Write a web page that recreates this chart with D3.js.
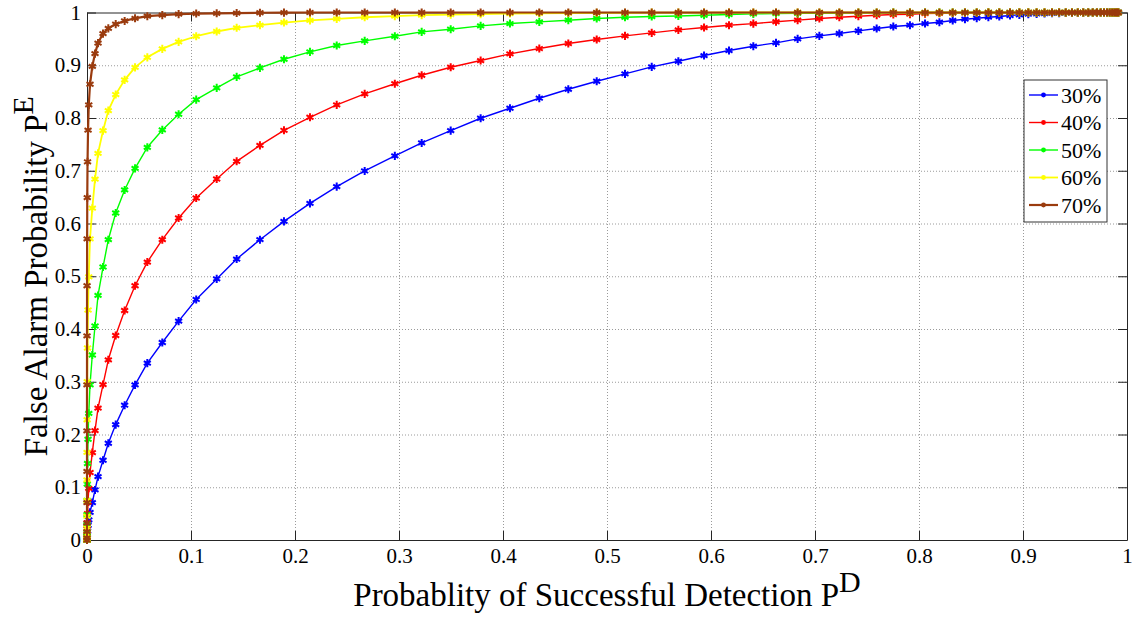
<!DOCTYPE html>
<html>
<head>
<meta charset="utf-8">
<script src="https://cdn.jsdelivr.net/npm/d3@7"></script>
<style>
  html, body { margin: 0; padding: 0; background: #fff; }
  svg { display: block; }
  text { font-family: "Liberation Serif", "Times New Roman", serif; fill: #000; }
</style>
</head>
<body>
<svg id="chart" width="1139" height="617"></svg>
<script>
// Probability of successful detection (shared grid for every curve)
const detectionProb = [
  0, 0.00000000001, 0.0000000001, 0.000000007, 0.000000055, 0.00000034, 0.0000016, 0.0000059,
  0.000018, 0.000051, 0.000125, 0.00026, 0.00052, 0.001, 0.0017, 0.0029,
  0.0051, 0.0077, 0.0106, 0.0154, 0.0205, 0.0276, 0.0362, 0.0462, 0.058, 0.0724,
  0.0881, 0.105, 0.1247, 0.1439, 0.1663, 0.1894, 0.2144, 0.2401, 0.267, 0.296,
  0.3218, 0.3497, 0.3785, 0.4067, 0.4349, 0.4628, 0.4901, 0.5173, 0.543, 0.5686,
  0.5933, 0.6173, 0.6407, 0.6625, 0.6833, 0.7042, 0.7234, 0.7417, 0.7593, 0.7753,
  0.7913, 0.8058, 0.8196, 0.8324, 0.8442, 0.8555, 0.8667, 0.8772, 0.8875, 0.8965,
  0.9051, 0.9131, 0.9207, 0.9279, 0.9347, 0.9411, 0.9471, 0.9527, 0.9579, 0.9627,
  0.9671, 0.9711, 0.9747, 0.9779, 0.9808, 0.9834, 0.9857, 0.9877, 0.9894, 0.9908, 0.9917
];

// False alarm probability for each share
const falseAlarm30 = [
  0, 0, 0, 0, 0, 0, 0, 0, 0.001, 0.003, 0.006, 0.01, 0.017, 0.028, 0.038, 0.0525,
  0.0708, 0.0949, 0.1202, 0.1512, 0.1834, 0.2188, 0.2555, 0.2941, 0.3352, 0.3744,
  0.415, 0.456, 0.495, 0.5326, 0.5693, 0.604, 0.6382, 0.6698, 0.6996, 0.7283,
  0.7527, 0.7761, 0.7995, 0.8185, 0.8375, 0.8545, 0.8697, 0.8836, 0.8969, 0.9076,
  0.9184, 0.9279, 0.9361, 0.9425, 0.95, 0.9557, 0.9602, 0.9652, 0.9696, 0.9734,
  0.9759, 0.9791, 0.9816, 0.9848, 0.9873, 0.9892, 0.9911, 0.9924, 0.9943, 0.9956,
  0.9968, 0.9975, 0.998, 0.9985, 0.9989, 0.9992, 0.9994, 0.9996, 0.9997, 0.9998,
  0.9998, 0.9999, 0.9999, 1, 1, 1, 1, 1, 1, 1, 1
];
const falseAlarm40 = [
  0, 0, 0, 0, 0, 0, 0.001, 0.0025, 0.006, 0.012, 0.021, 0.033, 0.05, 0.072, 0.098, 0.128,
  0.1657, 0.2074, 0.2499, 0.2947, 0.3416, 0.3877, 0.4351, 0.482, 0.5269, 0.5693,
  0.6104, 0.6483, 0.6844, 0.7179, 0.7482, 0.7767, 0.8014, 0.8248, 0.8457, 0.865,
  0.881, 0.8962, 0.9089, 0.9216, 0.9317, 0.9412, 0.9488, 0.9557, 0.9614, 0.9671,
  0.9715, 0.9759, 0.979, 0.9825, 0.9856, 0.9886, 0.9911, 0.993, 0.9949, 0.9962,
  0.9968, 0.9978, 0.9985, 0.999, 0.9993, 0.9995, 0.9997, 0.9998, 0.9999, 1,
  1, 1, 1, 1, 1, 1, 1, 1, 1, 1,
  1, 1, 1, 1, 1, 1, 1, 1, 1, 1, 1
];
const falseAlarm50 = [
  0, 0, 0, 0, 0.001, 0.003, 0.007, 0.015, 0.029, 0.048, 0.075, 0.106, 0.145, 0.191, 0.24, 0.294,
  0.3507, 0.4057, 0.4636, 0.5175, 0.5693, 0.6199, 0.6636, 0.7046, 0.7444, 0.7774,
  0.8071, 0.8349, 0.8571, 0.878, 0.895, 0.9114, 0.9254, 0.9374, 0.9463, 0.955,
  0.9632, 0.9683, 0.9747, 0.9791, 0.9822, 0.9854, 0.9886, 0.991, 0.9924, 0.9935,
  0.9948, 0.9962, 0.9973, 0.9978, 0.9983, 0.9987, 0.999, 0.9993, 0.9995, 0.9997,
  0.9998, 0.9999, 1, 1, 1, 1, 1, 1, 1, 1,
  1, 1, 1, 1, 1, 1, 1, 1, 1, 1,
  1, 1, 1, 1, 1, 1, 1, 1, 1, 1, 1
];
const falseAlarm60 = [
  0, 0, 0.001, 0.004, 0.01, 0.023, 0.045, 0.075, 0.114, 0.166, 0.228, 0.3, 0.364, 0.436, 0.499, 0.571,
  0.629, 0.684, 0.733, 0.776, 0.814, 0.8445, 0.8723, 0.896, 0.915, 0.931,
  0.9443, 0.955, 0.964, 0.971, 0.976, 0.981, 0.985, 0.988, 0.991, 0.993,
  0.995, 0.996, 0.997, 0.998, 0.9985, 0.999, 0.9993, 0.9995, 0.9997, 0.9998,
  0.9999, 1, 1, 1, 1, 1, 1, 1, 1, 1,
  1, 1, 1, 1, 1, 1, 1, 1, 1, 1,
  1, 1, 1, 1, 1, 1, 1, 1, 1, 1,
  1, 1, 1, 1, 1, 1, 1, 1, 1, 1, 1
];
const falseAlarm70 = [
  0, 0.004, 0.016, 0.032, 0.071, 0.13, 0.207, 0.294, 0.387, 0.482, 0.571, 0.649, 0.717, 0.777, 0.825, 0.864,
  0.898, 0.922, 0.942, 0.96, 0.97, 0.978, 0.984, 0.989, 0.993, 0.995,
  0.997, 0.998, 0.9985, 0.999, 0.9995, 0.9998, 1, 1, 1, 1,
  1, 1, 1, 1, 1, 1, 1, 1, 1, 1,
  1, 1, 1, 1, 1, 1, 1, 1, 1, 1,
  1, 1, 1, 1, 1, 1, 1, 1, 1, 1,
  1, 1, 1, 1, 1, 1, 1, 1, 1, 1,
  1, 1, 1, 1, 1, 1, 1, 1, 1, 1, 1
];

const seriesNames = ["30%", "40%", "50%", "60%", "70%"];
const seriesColors = ["#0000ff", "#ff0000", "#00ff00", "#ffff00", "#9a3b0e"];
const seriesWidths = [1.4, 1.4, 1.4, 1.8, 2.2];
const tickValues = [0, 0.1, 0.2, 0.3, 0.4, 0.5, 0.6, 0.7, 0.8, 0.9, 1];
const tickLabels = ["0", "0.1", "0.2", "0.3", "0.4", "0.5", "0.6", "0.7", "0.8", "0.9", "1"];

const series = [falseAlarm30, falseAlarm40, falseAlarm50, falseAlarm60, falseAlarm70]
  .map((vals, i) => ({
    name: seriesNames[i],
    color: seriesColors[i],
    width: seriesWidths[i],
    points: vals.map((v, j) => [detectionProb[j], v])
  }));

const svg = d3.select("#chart");
const plot = { left: 87, right: 1127, top: 12.5, bottom: 540 };
const x = d3.scaleLinear().domain([0, 1]).range([plot.left, plot.right]);
const y = d3.scaleLinear().domain([0, 1]).range([plot.bottom, plot.top]);
const fmt = v => tickLabels[tickValues.indexOf(v)];
const axisColor = "#262626";
const serif = '"Liberation Serif","Times New Roman",serif';

// dotted grid
const inner = tickValues.slice(1, -1);
svg.append("g")
  .attr("transform", `translate(0,${plot.bottom})`)
  .call(d3.axisBottom(x).tickValues(inner).tickSize(-(plot.bottom - plot.top)).tickFormat(""))
  .call(g => g.select(".domain").remove())
  .call(g => g.selectAll("line").attr("stroke", "#9a9a9a").attr("stroke-dasharray", "1,2"));
svg.append("g")
  .attr("transform", `translate(${plot.left},0)`)
  .call(d3.axisLeft(y).tickValues(inner).tickSize(-(plot.right - plot.left)).tickFormat(""))
  .call(g => g.select(".domain").remove())
  .call(g => g.selectAll("line").attr("stroke", "#9a9a9a").attr("stroke-dasharray", "1,2"));

// axes box with inward ticks
function styleAxis(g) {
  g.attr("font-family", serif);
  g.select(".domain").attr("stroke", axisColor);
  g.selectAll(".tick line").attr("stroke", axisColor);
  g.selectAll("text").attr("font-size", 21).attr("fill", "#000").style("font-family", serif);
}
svg.append("g").attr("transform", `translate(0,${plot.bottom})`)
  .call(d3.axisBottom(x).tickValues(tickValues).tickFormat(fmt).tickSizeInner(-9).tickSizeOuter(0).tickPadding(8))
  .call(styleAxis);
svg.append("g").attr("transform", `translate(0,${plot.top})`)
  .call(d3.axisTop(x).tickValues(tickValues).tickFormat("").tickSizeInner(-9).tickSizeOuter(0))
  .call(styleAxis);
svg.append("g").attr("transform", `translate(${plot.left},0)`)
  .call(d3.axisLeft(y).tickValues(tickValues).tickFormat(fmt).tickSizeInner(-9).tickSizeOuter(0).tickPadding(6))
  .call(styleAxis);
svg.append("g").attr("transform", `translate(${plot.right},0)`)
  .call(d3.axisRight(y).tickValues(tickValues).tickFormat("").tickSizeInner(-9).tickSizeOuter(0))
  .call(styleAxis);

// curves
const line = d3.line().x(d => x(d[0])).y(d => y(d[1]));
const marker = d3.symbol().type(d3.symbolAsterisk).size(46);
const curves = svg.append("g");
series.forEach(s => {
  const g = curves.append("g");
  g.append("path").datum(s.points)
    .attr("d", line).attr("fill", "none")
    .attr("stroke", s.color).attr("stroke-width", s.width).attr("stroke-linejoin", "round");
  g.selectAll("path.m").data(s.points).join("path")
    .attr("class", "m")
    .attr("transform", d => `translate(${x(d[0])},${y(d[1])})`)
    .attr("d", marker)
    .attr("fill", "none").attr("stroke", s.color).attr("stroke-width", 2);
});

// legend
const legend = svg.append("g");
legend.append("rect")
  .attr("x", 1024).attr("y", 80).attr("width", 83).attr("height", 142)
  .attr("fill", "#fff").attr("stroke", "#333").attr("stroke-width", 1);
series.forEach((s, i) => {
  const ly = 95 + i * 27.5;
  legend.append("line").attr("x1", 1029).attr("x2", 1058).attr("y1", ly).attr("y2", ly)
    .attr("stroke", s.color).attr("stroke-width", s.width);
  legend.append("circle").attr("cx", 1043.5).attr("cy", ly).attr("r", 2.4).attr("fill", s.color);
  legend.append("text").attr("x", 1061).attr("y", ly).attr("dy", "0.35em")
    .attr("font-size", 22).text(s.name);
});

// axis titles
const xt = svg.append("text")
  .attr("x", (plot.left + plot.right) / 2).attr("y", 606)
  .attr("text-anchor", "middle").attr("font-size", 33);
xt.append("tspan").text("Probablity of Successful Detection P");
xt.append("tspan").attr("dy", -14).attr("font-size", 30).text("D");

const yt = svg.append("text")
  .attr("transform", `translate(47,${(plot.top + plot.bottom) / 2}) rotate(-90)`)
  .attr("text-anchor", "middle").attr("font-size", 33);
yt.append("tspan").text("False Alarm Probability P");
yt.append("tspan").attr("dy", -14).attr("font-size", 30).text("E");
</script>
</body>
</html>
